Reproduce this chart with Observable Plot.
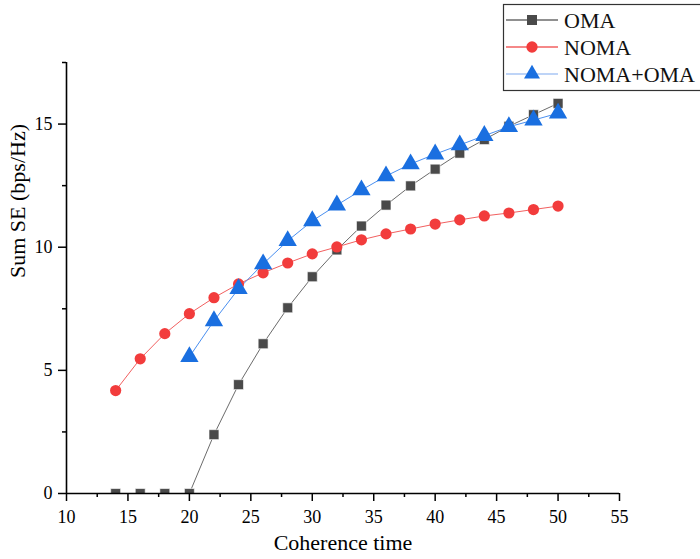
<!DOCTYPE html>
<html>
<head>
<meta charset="utf-8">
<script src="https://cdn.jsdelivr.net/npm/d3@7"></script>
<script src="https://cdn.jsdelivr.net/npm/@observablehq/plot@0.6"></script>
<style>
  html, body { margin: 0; padding: 0; background: #fff; }
  #chart { position: relative; width: 700px; height: 559px; }
</style>
</head>
<body>
<div id="chart"></div>
<script>
const coherenceTime = [14, 16, 18, 20, 22, 24, 26, 28, 30, 32, 34, 36, 38, 40, 42, 44, 46, 48, 50];
const omaSE = [0, 0, 0, 0, 2.39, 4.42, 6.08, 7.54, 8.80, 9.89, 10.86, 11.71, 12.49, 13.17, 13.82, 14.37, 14.91, 15.38, 15.84];
const nomaSE = [4.18, 5.47, 6.49, 7.30, 7.95, 8.51, 8.96, 9.36, 9.73, 10.01, 10.30, 10.54, 10.74, 10.94, 11.11, 11.27, 11.39, 11.53, 11.67];
const hybridTime = [20, 22, 24, 26, 28, 30, 32, 34, 36, 38, 40, 42, 44, 46, 48, 50];
const hybridSE = [5.55, 7.01, 8.31, 9.32, 10.26, 11.07, 11.71, 12.32, 12.89, 13.38, 13.78, 14.15, 14.53, 14.89, 15.16, 15.44];
const seriesNames = ["OMA", "NOMA", "NOMA+OMA"];
const xMajor = [10, 15, 20, 25, 30, 35, 40, 45, 50, 55];
const xMinor = [12.5, 17.5, 22.5, 27.5, 32.5, 37.5, 42.5, 47.5, 52.5];
const yMajor = [0, 5, 10, 15];
const yMinor = [2.5, 7.5, 12.5, 17.5];

const oma = coherenceTime.map((t, i) => ({t, v: omaSE[i]}));
const noma = coherenceTime.map((t, i) => ({t, v: nomaSE[i]}));
const hybrid = hybridTime.map((t, i) => ({t, v: hybridSE[i]}));

const font = "'Liberation Serif', 'Times New Roman', serif";
const colors = {
  omaLine: "#6b6b6b", omaFill: "#4a4a4a",
  nomaLine: "#f26060", nomaFill: "#f23c3c",
  hybLine: "#4a8ff0", hybFill: "#1a6fe0"
};

const plot = Plot.plot({
  width: 700,
  height: 559,
  marginLeft: 66,
  marginRight: 81,
  marginTop: 62,
  marginBottom: 66,
  style: {fontFamily: font, fontSize: "17px", color: "#000", background: "#fff"},
  x: {domain: [10, 55]},
  y: {domain: [0, 17.5]},
  marks: [
    Plot.axisX({ticks: xMajor, tickSize: 8, strokeWidth: 1.5, stroke: "#000", tickPadding: 9, fontSize: 18, label: null}),
    Plot.axisX({ticks: xMinor, tickSize: 4, strokeWidth: 1.5, stroke: "#000", text: null, label: null}),
    Plot.axisY({ticks: yMajor, tickSize: 8, strokeWidth: 1.5, stroke: "#000", tickPadding: 6, fontSize: 18, label: null}),
    Plot.axisY({ticks: yMinor, tickSize: 4, strokeWidth: 1.5, stroke: "#000", text: null, label: null}),
    Plot.line(oma, {x: "t", y: "v", stroke: colors.omaLine, strokeWidth: 1, clip: true}),
    Plot.line(noma, {x: "t", y: "v", stroke: colors.nomaLine, strokeWidth: 1}),
    Plot.line(hybrid, {x: "t", y: "v", stroke: colors.hybLine, strokeWidth: 1}),
    Plot.dot(oma, {x: "t", y: "v", symbol: "square", r: 5.6, fill: colors.omaFill, stroke: "#ffffff", strokeWidth: 0.6, clip: true}),
    Plot.dot(noma, {x: "t", y: "v", symbol: "circle", r: 5.6, fill: colors.nomaFill, stroke: "none"}),
    Plot.dot(hybrid, {x: "t", y: "v", symbol: "triangle", r: 6.8, fill: colors.hybFill, stroke: "none"}),
    Plot.ruleY([0], {stroke: "#000", strokeWidth: 1.6}),
    Plot.ruleX([10], {stroke: "#000", strokeWidth: 1.6}),
    Plot.text(["Coherence time"], {frameAnchor: "bottom", dy: 56, fontSize: 22, fill: "#000"}),
    Plot.text(["Sum SE (bps/Hz)"], {frameAnchor: "left", dx: -49, rotate: -90, fontSize: 22, fill: "#000"})
  ]
});

document.getElementById("chart").appendChild(plot);

// drop the empty label nodes produced by the minor-tick axes
d3.select(plot).selectAll("text").filter(function() { return this.textContent === ""; }).remove();

// Legend drawn inside the SVG
const svg = d3.select(plot);
const lg = svg.append("g").attr("font-family", font).attr("font-size", 22).attr("text-anchor", "start");
lg.append("rect").attr("x", 503.5).attr("y", 4.5).attr("width", 200).attr("height", 86)
  .attr("fill", "#fff").attr("stroke", "#333").attr("stroke-width", 1.2);
const entries = [
  {name: seriesNames[0], line: colors.omaLine, fill: colors.omaFill, sym: d3.symbolSquare, size: 100},
  {name: seriesNames[1], line: colors.nomaLine, fill: colors.nomaFill, sym: d3.symbolCircle, size: 100},
  {name: seriesNames[2], line: "#a8c6f5", fill: colors.hybFill, sym: d3.symbolTriangle, size: 110}
];
entries.forEach((e, i) => {
  const cy = 20 + i * 27;
  lg.append("line").attr("x1", 506).attr("x2", 558).attr("y1", cy).attr("y2", cy)
    .attr("stroke", e.line).attr("stroke-width", 1.3);
  lg.append("path").attr("d", d3.symbol(e.sym, e.size)()).attr("transform", `translate(532,${cy})`)
    .attr("fill", e.fill);
  lg.append("text").attr("x", 564).attr("y", cy).attr("dy", "0.35em").attr("fill", "#111").text(e.name);
});
</script>
</body>
</html>
